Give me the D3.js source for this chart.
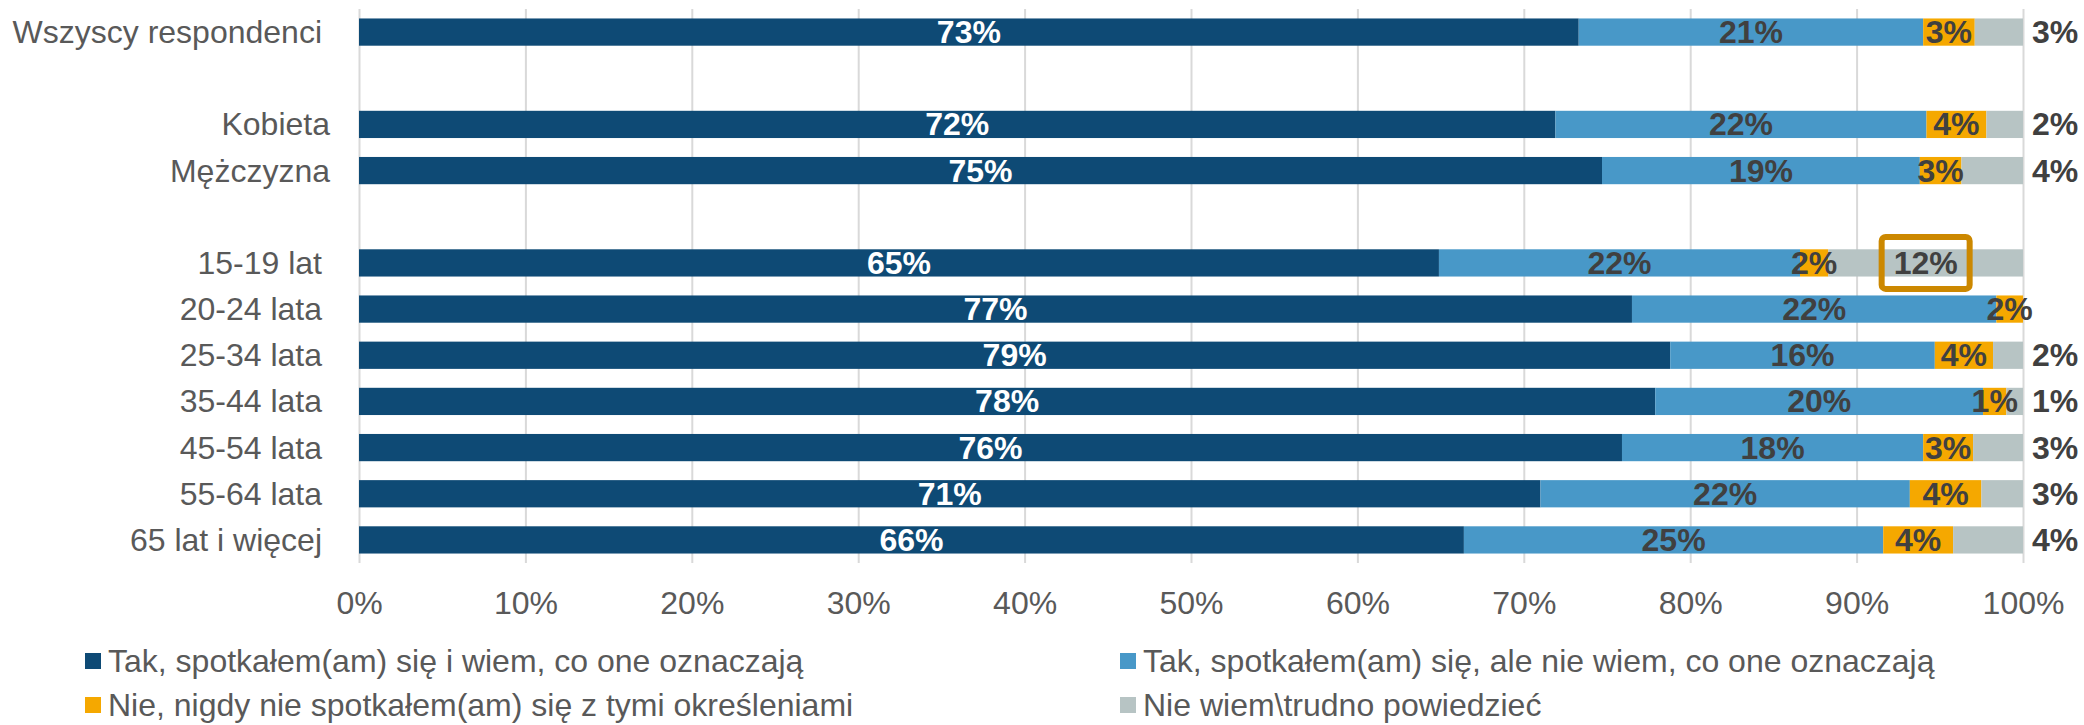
<!DOCTYPE html>
<html>
<head>
<meta charset="utf-8">
<script src="https://cdn.jsdelivr.net/npm/d3@7"></script>
<style>
  html, body { margin: 0; padding: 0; background: #ffffff; }
  svg { display: block; }
  text { font-family: "Liberation Sans", Arial, sans-serif; }
</style>
</head>
<body>
<svg id="chart" width="2084" height="725"></svg>
<script>
// ---- Data ----
const categories = ["Wszyscy respondenci", null, "Kobieta", "Mężczyzna", null,
  "15-19 lat", "20-24 lata", "25-34 lata", "35-44 lata", "45-54 lata", "55-64 lata", "65 lat i więcej"];
const seriesNames = [
  "Tak, spotkałem(am) się i wiem, co one oznaczają",
  "Tak, spotkałem(am) się, ale nie wiem, co one oznaczają",
  "Nie, nigdy nie spotkałem(am) się z tymi określeniami",
  "Nie wiem\\trudno powiedzieć"
];
const knowMeaning    = [73.3, null, 71.9, 74.7, null, 64.9, 76.5, 78.8, 77.9, 75.9, 71.0, 66.4];
const seenNotKnow    = [20.7, null, 22.3, 19.1, null, 21.7, 21.9, 15.9, 19.7, 18.1, 22.2, 25.2];
const neverSeen      = [3.1,  null, 3.6,  2.5,  null, 1.7,  1.6,  3.5,  1.4,  3.0,  4.3,  4.2];
const dontKnow       = [2.9,  null, 2.2,  3.7,  null, 11.7, 0,    1.8,  1.0,  3.0,  2.5,  4.2];
const tickValues = [0, 10, 20, 30, 40, 50, 60, 70, 80, 90, 100];
const highlightedCategory = "15-19 lat";

// ---- Styles ----
const colors = ["#0E4A75", "#4898C8", "#F5A800", "#B7C4C4"];
const labelColors = ["#FFFFFF", "#404040", "#404040", "#404040"];
const textGrey = "#595959";
const fontSize = 32;
const labelNudge = { "Kobieta": 8, "Mężczyzna": 8 };

const svg = d3.select("#chart");
const series = [knowMeaning, seenNotKnow, neverSeen, dontKnow];

const x = d3.scaleLinear().domain([0, 100]).range([359, 2023]);
const y = d3.scaleBand().domain(d3.range(categories.length)).range([9, 563])
  .paddingInner(0.41).paddingOuter(0.205);

// gridlines
const grid = svg.append("g").attr("transform", "translate(0,563)")
  .call(d3.axisBottom(x).tickValues(tickValues).tickSize(-554).tickFormat(""));
grid.select(".domain").remove();
grid.selectAll(".tick line").attr("stroke", "#D9D9D9").attr("stroke-width", 2);

// x axis labels
const ax = svg.append("g").attr("transform", "translate(0,563)")
  .call(d3.axisBottom(x).tickValues(tickValues).tickSize(0).tickPadding(28).tickFormat(d => d + "%"));
ax.select(".domain").remove();
ax.selectAll("text").attr("font-size", fontSize).attr("fill", textGrey)
  .attr("font-family", "'Liberation Sans', Arial, sans-serif");

// rows
const rows = categories.map((c, i) => ({ c, i })).filter(d => d.c !== null);

// category labels
svg.append("g").selectAll("text").data(rows).join("text")
  .attr("x", d => 322 + (labelNudge[d.c] || 0))
  .attr("y", d => y(d.i) + y.bandwidth() / 2)
  .attr("text-anchor", "end")
  .attr("dominant-baseline", "central")
  .attr("font-size", fontSize)
  .attr("fill", textGrey)
  .text(d => d.c);

// stacked segments
const segs = [];
rows.forEach(r => {
  let acc = 0;
  series.forEach((s, k) => {
    const v = s[r.i];
    segs.push({ r, k, v, x0: acc, x1: acc + v });
    acc += v;
  });
});

svg.append("g").selectAll("rect").data(segs.filter(d => d.v > 0)).join("rect")
  .attr("x", d => x(d.x0))
  .attr("y", d => y(d.r.i))
  .attr("width", d => x(d.x1) - x(d.x0))
  .attr("height", y.bandwidth())
  .attr("fill", d => colors[d.k]);

// data labels
const labG = svg.append("g");
segs.filter(d => d.v > 0).forEach(d => {
  const cy = y(d.r.i) + y.bandwidth() / 2;
  let cx = x((d.x0 + d.x1) / 2);
  const outside = d.k === 3 && d.r.c !== highlightedCategory;
  if (outside) cx = x(100) + 32;
  labG.append("text")
    .attr("x", cx).attr("y", cy)
    .attr("text-anchor", "middle")
    .attr("dominant-baseline", "central")
    .attr("font-size", fontSize)
    .attr("font-weight", "bold")
    .attr("fill", labelColors[d.k])
    .text(Math.round(d.v) + "%");
  if (d.k === 3 && d.r.c === highlightedCategory) {
    const w = 88, h = 52;
    labG.insert("rect", "text")
      .attr("x", cx - w / 2).attr("y", cy - h / 2)
      .attr("width", w).attr("height", h)
      .attr("rx", 4)
      .attr("fill", "none")
      .attr("stroke", "#CC8800")
      .attr("stroke-width", 6);
  }
});

// legend
const legendPos = [[85, 661], [1120, 661], [85, 705], [1120, 705]];
const lg = svg.append("g").selectAll("g").data(seriesNames).join("g")
  .attr("transform", (d, i) => `translate(${legendPos[i][0]},${legendPos[i][1]})`);
lg.append("rect").attr("x", 0).attr("y", -8).attr("width", 16).attr("height", 16)
  .attr("fill", (d, i) => colors[i]);
lg.append("text").attr("x", 23).attr("y", 0)
  .attr("dominant-baseline", "central")
  .attr("font-size", fontSize)
  .attr("fill", textGrey)
  .text(d => d);
</script>
</body>
</html>
